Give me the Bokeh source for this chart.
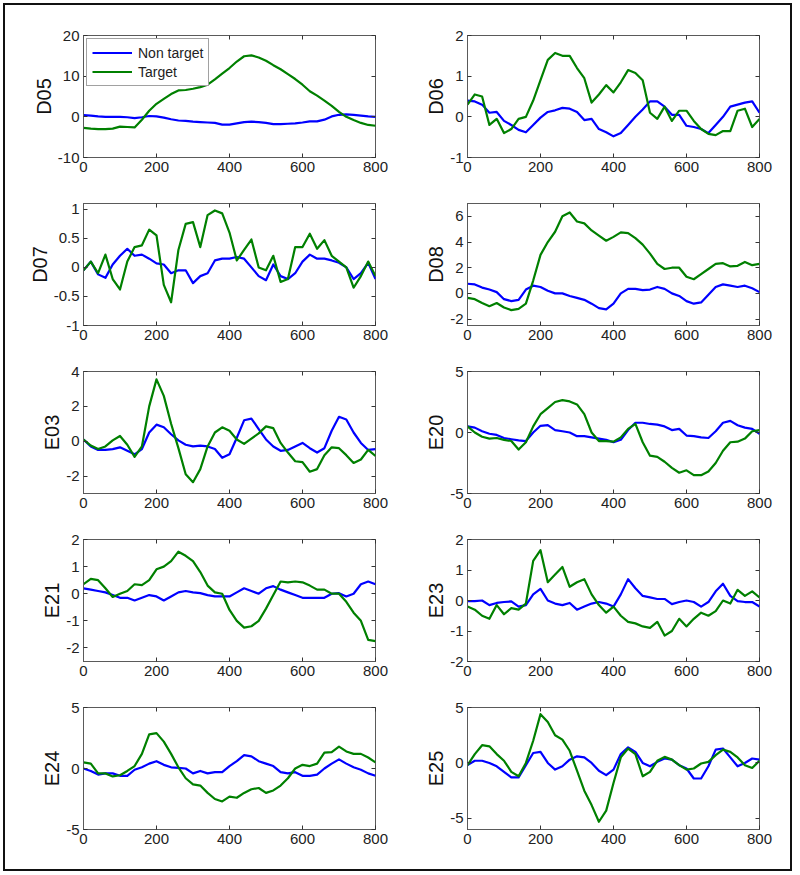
from bokeh.plotting import figure
from bokeh.layouts import row, column
from bokeh.models import LinearAxis, Range1d, FixedTicker, CustomJSTickFormatter
from bokeh.embed import file_html
from bokeh.resources import INLINE

# ---------------- data (sample index 0..800, step 20) ----------------
time_ms = list(range(0, 801, 20))
x_ticks = [0, 200, 400, 600, 800]

channels = ["D05", "D06", "D07", "D08", "E03", "E20", "E21", "E23", "E24", "E25"]

d05_non = [0.4, 0.3, 0.1, 0.0, 0.0, 0.0, -0.1, -0.3, -0.1, 0.2,
           0.1, -0.2, -0.6, -0.9, -1.0, -1.2, -1.3, -1.4, -1.5, -1.9,
           -1.9, -1.6, -1.3, -1.2, -1.3, -1.5, -1.8, -1.8, -1.7, -1.6,
           -1.4, -1.1, -1.1, -0.7, 0.1, 0.5, 0.6, 0.5, 0.3, 0.1,
           0.0]
d05_tar = [-2.7, -2.9, -3.0, -3.0, -2.9, -2.4, -2.5, -2.6, -0.7, 1.5,
           3.2, 4.4, 5.6, 6.5, 6.6, 6.9, 7.3, 7.9, 9.2, 10.6,
           12.0, 13.6, 14.9, 15.1, 14.6, 13.8, 12.7, 11.7, 10.5, 9.3,
           7.9, 6.3, 5.2, 4.0, 2.7, 1.2, 0.0, -0.8, -1.5, -2.0,
           -2.2]

d06_non = [0.4, 0.38, 0.3, 0.1, 0.12, -0.1, -0.2, -0.32, -0.38, -0.2,
           -0.02, 0.12, 0.16, 0.22, 0.2, 0.12, -0.08, -0.05, -0.3, -0.38,
           -0.48, -0.4, -0.2, 0.0, 0.18, 0.38, 0.38, 0.25, 0.05, 0.05,
           -0.22, -0.25, -0.3, -0.4, -0.2, 0.0, 0.25, 0.3, 0.35, 0.38,
           0.1]
d06_tar = [0.3, 0.55, 0.5, -0.2, -0.05, -0.4, -0.3, -0.05, 0.0, 0.4,
           0.9, 1.4, 1.57, 1.5, 1.5, 1.2, 0.95, 0.35, 0.55, 0.78,
           0.6, 0.85, 1.15, 1.08, 0.9, 0.1, -0.05, 0.25, -0.1, 0.15,
           0.15, -0.1, -0.3, -0.42, -0.45, -0.35, -0.35, 0.15, 0.2, -0.25,
           -0.05]

d07_non = [-0.05, 0.1, -0.12, -0.18, 0.05, 0.2, 0.32, 0.2, 0.22, 0.15,
           0.07, 0.05, -0.1, -0.05, -0.05, -0.27, -0.15, -0.1, 0.12, 0.15,
           0.15, 0.18, 0.15, 0.0, -0.15, -0.22, 0.05, -0.15, -0.2, -0.1,
           0.1, 0.22, 0.15, 0.15, 0.12, 0.08, 0.0, -0.2, -0.1, 0.08,
           -0.2]
d07_tar = [-0.05, 0.1, -0.1, 0.22, -0.2, -0.38, 0.1, 0.35, 0.38, 0.65,
           0.55, -0.3, -0.6, 0.3, 0.75, 0.78, 0.35, 0.9, 0.98, 0.93,
           0.6, 0.12, 0.3, 0.48, 0.0, -0.05, 0.2, -0.25, -0.2, 0.35,
           0.35, 0.58, 0.32, 0.47, 0.2, 0.1, 0.0, -0.35, -0.15, 0.1,
           -0.15]

d08_non = [0.75, 0.7, 0.45, 0.3, 0.1, -0.45, -0.6, -0.5, 0.3, 0.6,
           0.5, 0.2, 0.0, 0.0, -0.2, -0.35, -0.5, -0.8, -1.15, -1.25,
           -0.8, 0.0, 0.35, 0.35, 0.25, 0.3, 0.5, 0.35, 0.0, -0.2,
           -0.6, -0.8, -0.7, -0.1, 0.5, 0.7, 0.6, 0.5, 0.6, 0.4,
           0.1]
d08_tar = [-0.35, -0.45, -0.75, -1.0, -0.75, -1.1, -1.3, -1.2, -0.8, 1.0,
           3.0, 4.0, 4.8, 6.0, 6.3, 5.6, 5.45, 4.9, 4.5, 4.1,
           4.4, 4.75, 4.7, 4.3, 3.8, 3.1, 2.3, 1.9, 2.0, 2.0,
           1.3, 1.1, 1.5, 1.9, 2.3, 2.35, 2.1, 2.15, 2.45, 2.2,
           2.3]

e03_non = [0.1, -0.3, -0.5, -0.5, -0.45, -0.35, -0.55, -0.75, -0.45, 0.5,
           0.95, 0.8, 0.4, 0.05, -0.2, -0.3, -0.25, -0.3, -0.45, -0.95,
           -0.75, 0.2, 1.2, 1.3, 0.7, 0.1, -0.3, -0.55, -0.5, -0.3,
           -0.1, -0.4, -0.65, -0.4, 0.6, 1.4, 1.25, 0.5, -0.1, -0.5,
           -0.45]
e03_tar = [0.1, -0.25, -0.45, -0.3, 0.05, 0.3, -0.2, -0.9, -0.3, 2.0,
           3.55, 2.6, 1.0, -0.4, -1.9, -2.35, -1.6, -0.3, 0.5, 0.8,
           0.6, 0.1, -0.15, 0.15, 0.45, 0.85, 0.75, -0.1, -0.65, -1.15,
           -1.2, -1.75, -1.6, -0.8, -0.35, -0.4, -0.8, -1.25, -1.05, -0.5,
           -0.85]

e20_non = [0.5, 0.4, 0.1, -0.1, -0.2, -0.45, -0.55, -0.65, -0.7, 0.0,
           0.55, 0.6, 0.2, 0.1, 0.0, -0.3, -0.3, -0.4, -0.5, -0.6,
           -0.8, -0.6, 0.2, 0.8, 0.8, 0.7, 0.65, 0.5, 0.2, 0.3,
           -0.25, -0.3, -0.4, -0.45, 0.1, 0.8, 0.95, 0.6, 0.4, 0.3,
           -0.1]
e20_tar = [0.5, 0.0, -0.35, -0.5, -0.45, -0.6, -0.7, -1.4, -0.8, 0.5,
           1.5, 2.0, 2.5, 2.65, 2.55, 2.3, 1.5, 0.0, -0.7, -0.7,
           -0.75, -0.4, 0.3, 0.7, -0.8, -1.9, -2.0, -2.4, -2.9, -3.3,
           -3.1, -3.5, -3.5, -3.2, -2.5, -1.5, -0.8, -0.75, -0.5, 0.1,
           0.2]

e21_non = [0.2, 0.15, 0.1, 0.05, -0.05, -0.15, -0.15, -0.25, -0.15, -0.05,
           -0.1, -0.25, -0.1, 0.05, 0.1, 0.05, 0.02, -0.05, -0.1, -0.1,
           -0.1, 0.05, 0.2, 0.1, 0.0, 0.2, 0.28, 0.15, 0.05, -0.05,
           -0.15, -0.15, -0.15, -0.15, 0.0, 0.02, -0.1, 0.0, 0.35, 0.45,
           0.35]
e21_tar = [0.35, 0.55, 0.5, 0.2, -0.12, 0.0, 0.1, 0.35, 0.32, 0.5,
           0.9, 1.0, 1.2, 1.55, 1.4, 1.2, 0.8, 0.3, 0.05, 0.0,
           -0.6, -1.0, -1.25, -1.2, -1.0, -0.55, -0.05, 0.45, 0.42, 0.45,
           0.42, 0.3, 0.15, 0.15, 0.0, 0.0, -0.3, -0.7, -1.0, -1.7,
           -1.75]

e23_non = [-0.02, -0.02, 0.0, -0.15, -0.08, -0.05, -0.03, -0.2, -0.15, 0.2,
           0.38, 0.0, -0.1, -0.15, -0.08, -0.3, -0.2, -0.1, -0.05, -0.1,
           -0.2, 0.2, 0.7, 0.4, 0.15, 0.1, 0.05, 0.05, -0.12, -0.05,
           0.0, -0.05, -0.2, -0.05, 0.3, 0.55, 0.15, -0.02, -0.05, -0.05,
           -0.2]
e23_tar = [-0.2, -0.3, -0.5, -0.6, -0.15, -0.45, -0.25, -0.3, -0.1, 1.3,
           1.65, 0.6, 0.85, 1.1, 0.45, 0.6, 0.7, 0.2, -0.15, -0.4,
           -0.2, -0.5, -0.7, -0.75, -0.85, -0.9, -0.7, -1.15, -1.0, -0.6,
           -0.85, -0.6, -0.4, -0.5, -0.35, 0.0, -0.1, 0.35, 0.15, 0.3,
           0.1]

e24_non = [0.0, -0.2, -0.5, -0.4, -0.4, -0.6, -0.6, -0.1, 0.1, 0.4,
           0.6, 0.3, 0.1, 0.05, 0.0, -0.4, -0.2, -0.4, -0.3, -0.3,
           0.2, 0.6, 1.1, 1.0, 0.6, 0.4, 0.2, -0.3, -0.4, -0.3,
           -0.6, -0.6, -0.5, 0.0, 0.4, 0.75, 0.4, 0.1, -0.1, -0.4,
           -0.6]
e24_tar = [0.5, 0.4, -0.4, -0.4, -0.65, -0.55, -0.2, 0.2, 1.2, 2.8,
           2.9, 2.2, 1.2, 0.1, -0.8, -1.3, -1.4, -2.0, -2.5, -2.7,
           -2.3, -2.4, -2.0, -1.7, -1.6, -2.0, -1.8, -1.4, -0.8, 0.0,
           0.3, 0.2, 0.4, 1.3, 1.35, 1.8, 1.4, 1.2, 1.2, 0.9,
           0.5]

e25_non = [-0.2, 0.2, 0.2, 0.0, -0.3, -0.8, -1.3, -1.3, -0.2, 0.9,
           1.0, 0.0, -0.6, -0.3, 0.3, 0.6, 0.5, 0.0, -0.7, -1.1,
           -0.6, 0.8, 1.4, 1.0, 0.0, -0.3, 0.1, 0.4, 0.3, -0.2,
           -0.5, -1.4, -1.4, -0.3, 1.2, 1.3, 0.5, -0.3, 0.0, 0.4,
           0.3]
e25_tar = [-0.2, 0.8, 1.6, 1.5, 0.8, 0.2, -0.8, -1.2, 0.0, 2.0,
           4.4, 3.7, 2.5, 2.1, 1.1, -0.7, -2.5, -3.8, -5.3, -4.3,
           -1.8, 0.5, 1.3, 0.8, -1.2, -0.8, 0.2, 0.55, 0.3, -0.2,
           -0.6, -0.5, -0.05, 0.1, 0.7, 1.2, 1.0, 0.5, -0.2, -0.45,
           0.2]

non_target = [d05_non, d06_non, d07_non, d08_non, e03_non,
              e20_non, e21_non, e23_non, e24_non, e25_non]
target = [d05_tar, d06_tar, d07_tar, d08_tar, e03_tar,
          e20_tar, e21_tar, e23_tar, e24_tar, e25_tar]

y_limits = [(-10, 20), (-1, 2), (-1, 1.1), (-2.5, 7), (-3, 4),
            (-5, 5), (-2.5, 2), (-2, 2), (-5, 5), (-6, 5)]
y_ticks = [[-10, 0, 10, 20], [-1, 0, 1, 2], [-1, -0.5, 0, 0.5, 1],
           [-2, 0, 2, 4, 6], [-2, 0, 2, 4], [-5, 0, 5],
           [-2, -1, 0, 1, 2], [-2, -1, 0, 1, 2], [-5, 0, 5], [-5, 0, 5]]

# ---------------- styling ----------------
FONT = "Liberation Sans"
BLUE = "#0000ff"
GREEN = "#008000"
FRAME = "#5a5a5a"
TXT = "#222222"
fmt_code = "return String(tick);"


def mirror_axis(ticks):
    # ticks only (MATLAB-style box ticks); labels are not drawn
    ax = LinearAxis(ticker=FixedTicker(ticks=ticks),
                    major_label_text_font_size="1px",
                    major_label_text_color=None,
                    major_label_text_alpha=0,
                    major_label_standoff=0,
                    axis_line_color=None,
                    major_tick_in=4, major_tick_out=0,
                    major_tick_line_color="#333333",
                    minor_tick_line_color=None)
    return ax


def make_panel(i, top, bottom, left, right):
    p = figure(frame_width=292, frame_height=122,
               x_range=Range1d(0, 800), y_range=Range1d(*y_limits[i]),
               output_backend="svg", toolbar_location=None,
               min_border_top=top, min_border_bottom=bottom,
               min_border_left=left, min_border_right=right,
               background_fill_color="white", border_fill_color="white")
    p.xgrid.visible = False
    p.ygrid.visible = False
    p.outline_line_color = FRAME
    p.outline_line_width = 1

    for ax, ticks in ((p.xaxis[0], x_ticks), (p.yaxis[0], y_ticks[i])):
        ax.ticker = FixedTicker(ticks=ticks)
        ax.formatter = CustomJSTickFormatter(code=fmt_code)
        ax.major_tick_in = 4
        ax.major_tick_out = 0
        ax.major_tick_line_color = "#333333"
        ax.minor_tick_line_color = None
        ax.axis_line_color = FRAME
        ax.major_label_text_font = FONT
        ax.major_label_text_font_size = "15px"
        ax.major_label_text_color = TXT
        ax.major_label_standoff = 4
    p.yaxis[0].axis_label = channels[i]
    p.yaxis[0].axis_label_text_font = FONT
    p.yaxis[0].axis_label_text_font_size = "20px"
    p.yaxis[0].axis_label_text_font_style = "normal"
    p.yaxis[0].axis_label_text_color = "#111111"
    p.yaxis[0].axis_label_standoff = 0

    p.add_layout(mirror_axis(x_ticks), "above")
    p.add_layout(mirror_axis(y_ticks[i]), "right")

    if i == 0:
        p.line(time_ms, non_target[i], line_color=BLUE, line_width=2.2,
               line_join="round", legend_label="Non target")
        p.line(time_ms, target[i], line_color=GREEN, line_width=2.2,
               line_join="round", legend_label="Target")
        lg = p.legend[0]
        lg.location = "top_left"
        lg.margin = 3
        lg.padding = 5
        lg.spacing = 2
        lg.glyph_width = 40
        lg.glyph_height = 17
        lg.label_height = 17
        lg.label_standoff = 6
        lg.label_text_font = FONT
        lg.label_text_font_size = "14px"
        lg.label_text_color = TXT
        lg.border_line_color = "#444444"
        lg.border_line_width = 1
        lg.background_fill_color = "white"
        lg.background_fill_alpha = 1.0
    else:
        p.line(time_ms, non_target[i], line_color=BLUE, line_width=2.2,
               line_join="round")
        p.line(time_ms, target[i], line_color=GREEN, line_width=2.2,
               line_join="round")
    return p


rows = []
for r in range(5):
    top = 27 if r == 0 else 20
    bottom = 37 if r == 4 else 26
    lp = make_panel(2 * r, top, bottom, 75, 20)
    rp = make_panel(2 * r + 1, top, bottom, 72, 28)
    rows.append(row(lp, rp))

layout = column(*rows, margin=(8, 0, 0, 8),
                styles={"outline": "2px solid #111111",
                        "outline-offset": "3px"})

open("out.html", "w").write(file_html(layout, INLINE))
